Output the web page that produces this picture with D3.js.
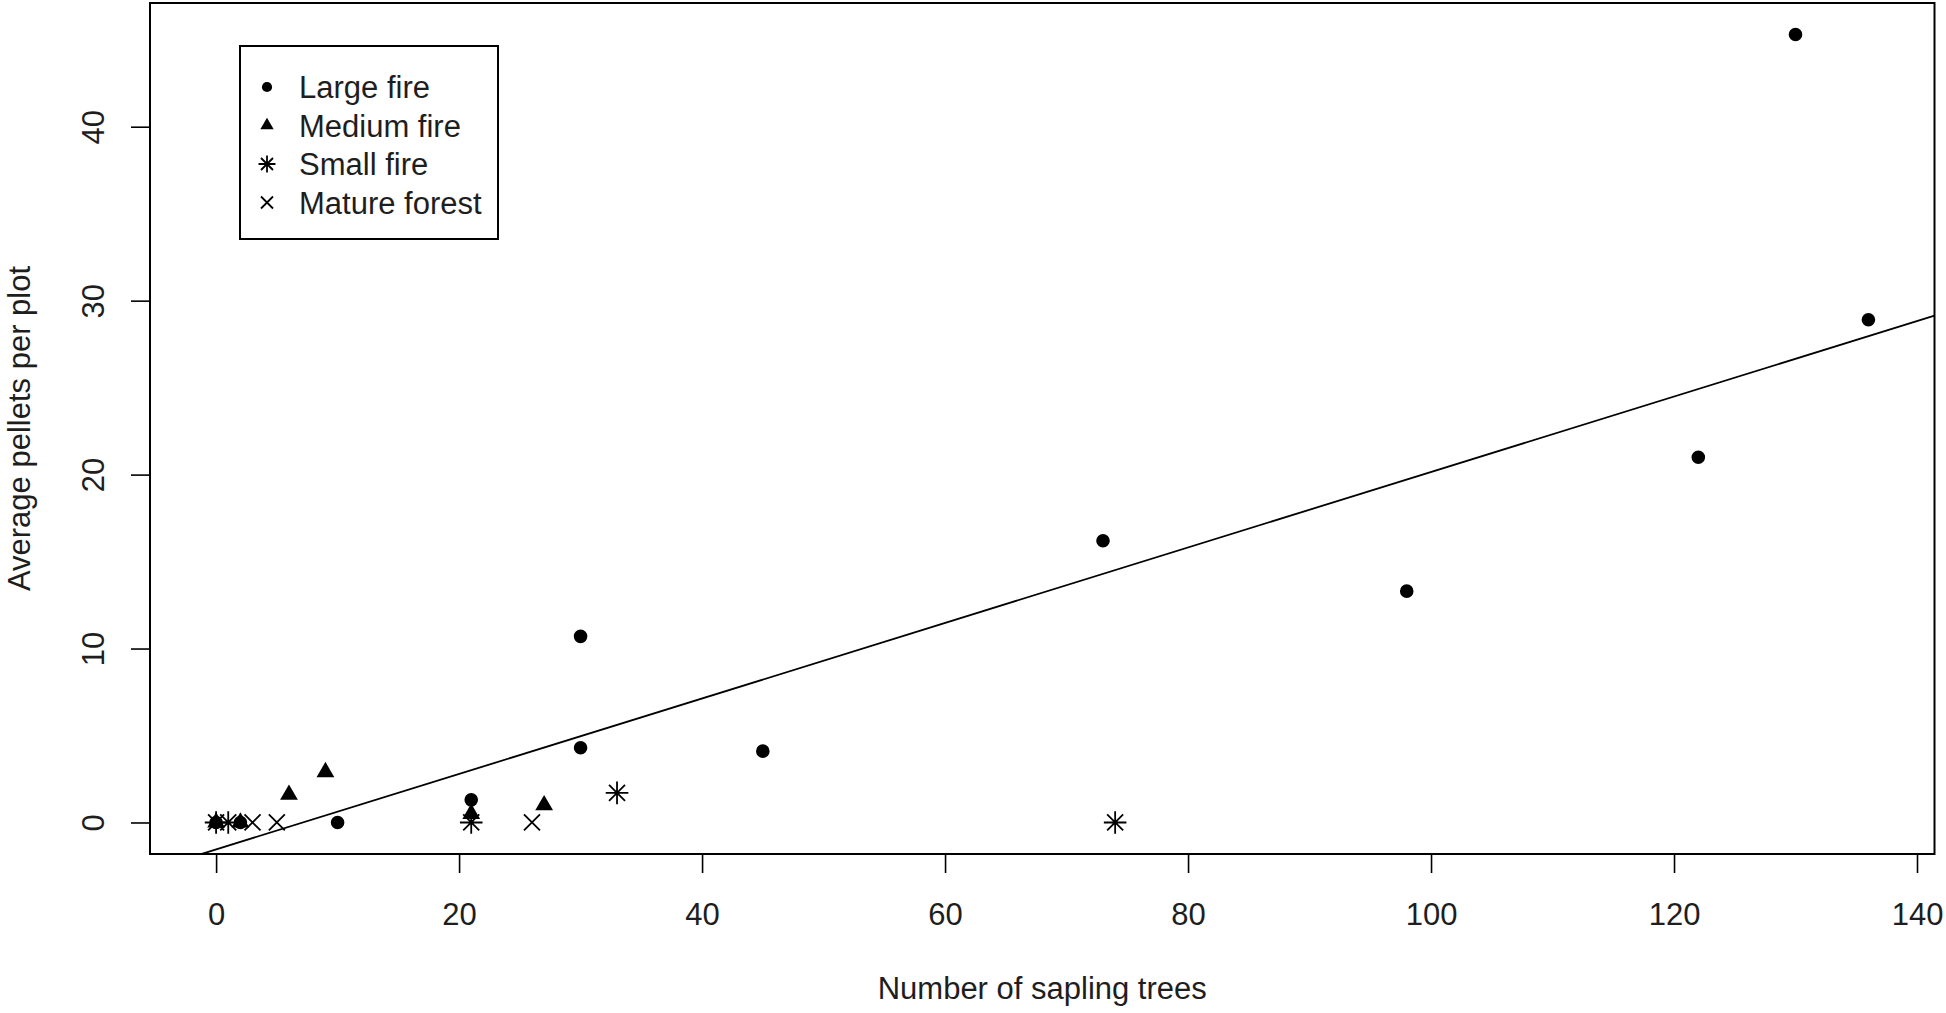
<!DOCTYPE html>
<html>
<head>
<meta charset="utf-8">
<script src="https://cdn.jsdelivr.net/npm/d3@7"></script>
<style>
body { margin: 0; background: #fff; }
text { font-family: "Liberation Sans", Arial, sans-serif; fill: #1e1e1e; }
</style>
</head>
<body>
<svg id="chart"></svg>
<script>
// points, [saplings, pellets]
var largeFire = [[130, 45.3], [136, 28.9], [122, 21.0], [98, 13.3], [73, 16.2], [45, 4.1],
    [30, 10.7], [30, 4.3], [21, 1.3], [10, 0], [2, 0], [0, 0]];
var mediumFire = [[9, 2.9], [6, 1.6], [27, 1.0], [21, 0.5], [2, 0], [0, 0]];
var smallFire = [[33, 1.7], [74, 0], [21, 0], [1, 0], [0, 0]];
var matureForest = [[26, 0], [5, 0], [3, 0]];

var groupNames = ["Large fire", "Medium fire", "Small fire", "Mature forest"];
var groupShapes = ["circle", "triangle", "asterisk", "cross"];
var xTicks = [0, 20, 40, 60, 80, 100, 120, 140];
var yTicks = [0, 10, 20, 30, 40];
var fitCoef = [-1.55, 0.217];   // intercept, slope of the fitted line

var W = 1946, H = 1013;
var box = {left: 150, right: 1934.5, top: 3, bottom: 854};

var svg = d3.select("#chart").attr("width", W).attr("height", H);
svg.append("rect").attr("width", W).attr("height", H).attr("fill", "#fff");

var groups = [largeFire, mediumFire, smallFire, matureForest];
var all = d3.merge(groups);

// R style 4% padding on the data range
function pad(ext){
    var d = (ext[1] - ext[0]) * 0.04;
    return [ext[0] - d, ext[1] + d];
}
var x = d3.scaleLinear().domain(pad(d3.extent(all, function(d){ return d[0]; })))
    .range([box.left, box.right]);
var y = d3.scaleLinear().domain(pad(d3.extent(all, function(d){ return d[1]; })))
    .range([box.bottom, box.top]);

function markerPath(shape, s){
    if(shape === "circle"){
        var r = 6.8 * s;
        return "M" + (-r) + ",0A" + r + "," + r + " 0 1,0 " + r + ",0A" + r + "," + r + " 0 1,0 " + (-r) + ",0Z";
    }
    if(shape === "triangle"){
        var hw = 8.9 * s, top = 10.2 * s, bot = 5.1 * s;
        return "M0," + (-top) + "L" + hw + "," + bot + "L" + (-hw) + "," + bot + "Z";
    }
    var c = 8.0 * s;
    var p = "M" + (-c) + "," + (-c) + "L" + c + "," + c + "M" + (-c) + "," + c + "L" + c + "," + (-c);
    if(shape === "asterisk"){
        var q = 11.3 * s;
        p += "M" + (-q) + ",0L" + q + ",0M0," + (-q) + "L0," + q;
    }
    return p;
}
function styleMarker(sel, shape){
    if(shape === "circle" || shape === "triangle"){
        sel.attr("fill", "#000").attr("stroke", "none");
    } else {
        sel.attr("fill", "none").attr("stroke", "#000").attr("stroke-width", 1.8);
    }
}

// axes
var xAxis = d3.axisBottom(x).tickValues(xTicks).tickSize(19).tickFormat(d3.format("d"));
var gx = svg.append("g").attr("transform", "translate(0," + box.bottom + ")").call(xAxis);
gx.select(".domain").remove();
gx.selectAll("line").attr("stroke", "#000").attr("stroke-width", 1.6);
gx.selectAll("text").attr("y", 71).attr("dy", 0).style("font-size", "31px")
    .style("font-family", "'Liberation Sans', Arial, sans-serif").attr("fill", "#1e1e1e");

var yAxis = d3.axisLeft(y).tickValues(yTicks).tickSize(19).tickFormat(d3.format("d"));
var gy = svg.append("g").attr("transform", "translate(" + box.left + ",0)").call(yAxis);
gy.select(".domain").remove();
gy.selectAll("line").attr("stroke", "#000").attr("stroke-width", 1.6);
gy.selectAll("text").attr("x", 0).attr("dy", 0).attr("text-anchor", "middle")
    .attr("transform", "translate(-46,0) rotate(-90)").style("font-size", "31px")
    .style("font-family", "'Liberation Sans', Arial, sans-serif").attr("fill", "#1e1e1e");

// axis titles
svg.append("text")
    .attr("x", (box.left + box.right) / 2).attr("y", 999)
    .attr("text-anchor", "middle").style("font-size", "31px")
    .text("Number of sapling trees");
svg.append("text")
    .attr("transform", "translate(30," + (box.top + box.bottom) / 2 + ") rotate(-90)")
    .attr("text-anchor", "middle").style("font-size", "31px")
    .text("Average pellets per plot");

// fitted line, clipped to the box
svg.append("clipPath").attr("id", "clip").append("rect")
    .attr("x", box.left).attr("y", box.top)
    .attr("width", box.right - box.left).attr("height", box.bottom - box.top);
var xd = x.domain();
svg.append("line")
    .attr("clip-path", "url(#clip)")
    .attr("x1", x(xd[0])).attr("y1", y(fitCoef[0] + fitCoef[1] * xd[0]))
    .attr("x2", x(xd[1])).attr("y2", y(fitCoef[0] + fitCoef[1] * xd[1]))
    .attr("stroke", "#000").attr("stroke-width", 1.8);

// points
groups.forEach(function(data, i){
    var shape = groupShapes[i];
    svg.append("g").selectAll("path")
        .data(data)
        .enter()
        .append("path")
        .attr("d", markerPath(shape, 1))
        .attr("transform", function(d){ return "translate(" + x(d[0]) + "," + y(d[1]) + ")"; })
        .call(styleMarker, shape);
});

// plot frame
svg.append("rect")
    .attr("x", box.left).attr("y", box.top)
    .attr("width", box.right - box.left).attr("height", box.bottom - box.top)
    .attr("fill", "none").attr("stroke", "#000").attr("stroke-width", 2);

// legend
var legend = svg.append("g");
legend.append("rect")
    .attr("x", 240).attr("y", 46).attr("width", 258).attr("height", 193)
    .attr("fill", "#fff").attr("stroke", "#000").attr("stroke-width", 2);
groupNames.forEach(function(name, i){
    var ly = 87 + i * 38.5;
    legend.append("path")
        .attr("d", markerPath(groupShapes[i], 0.75))
        .attr("transform", "translate(267," + ly + ")")
        .call(styleMarker, groupShapes[i]);
    legend.append("text")
        .attr("x", 299).attr("y", ly + 11)
        .style("font-size", "31px")
        .text(name);
});
</script>
</body>
</html>
